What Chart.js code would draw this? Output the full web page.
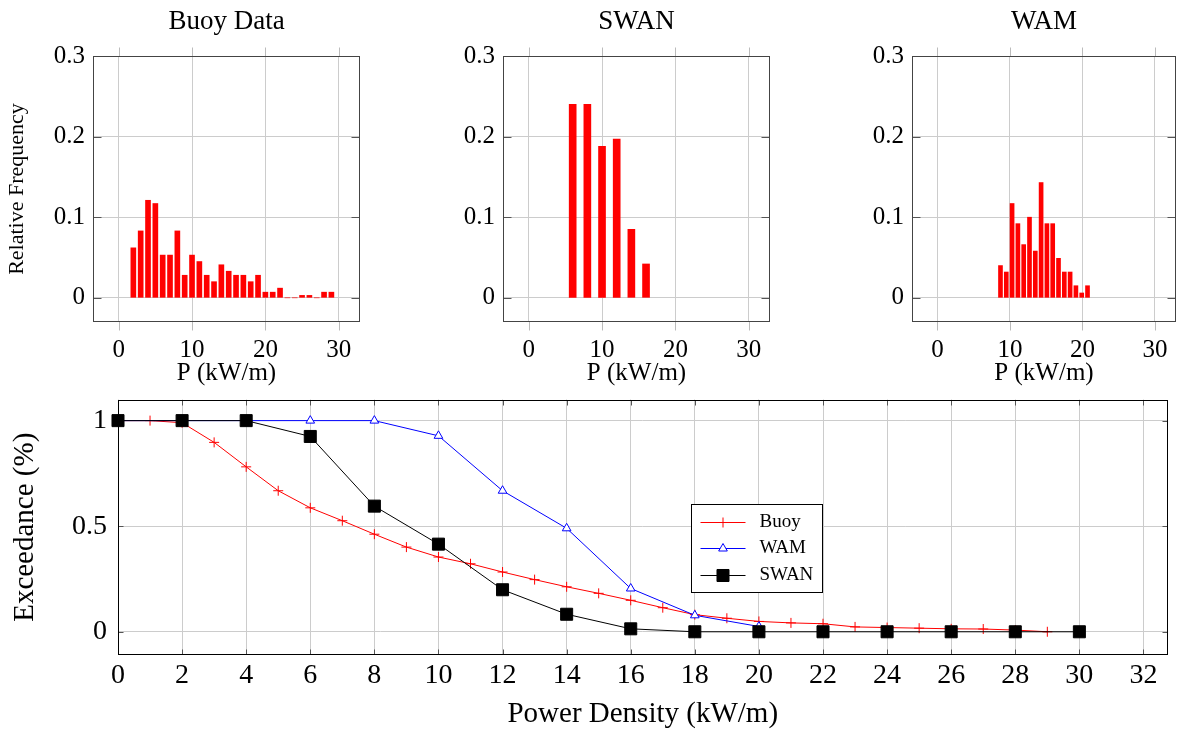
<!DOCTYPE html>
<html>
<head>
<meta charset="utf-8">
<title>Power density</title>
<script src="https://cdn.jsdelivr.net/npm/chart.js@4.4.1/dist/chart.umd.min.js"></script>
<style>
  body { margin: 0; background: #fff; }
  #wrap { position: relative; width: 1177px; height: 732px; overflow: hidden; }
  canvas { position: absolute; }
</style>
</head>
<body>
<div id="wrap">
  <canvas id="buoyHist" width="380" height="392" style="left:0;top:0"></canvas>
  <canvas id="swanHist" width="380" height="392" style="left:410px;top:0"></canvas>
  <canvas id="wamHist" width="358" height="392" style="left:819px;top:0"></canvas>
  <canvas id="exceedChart" width="1177" height="342" style="left:0;top:390px"></canvas>
</div>
<script>
// Histogram data (relative frequency per power bin)
const buoyBins = [2, 3, 4, 5, 6, 7, 8, 9, 10, 11, 12, 13, 14, 15, 16, 17, 18, 19, 20, 21, 22, 23, 24, 25, 26, 27, 28, 29];
const buoyFreq = [0.062, 0.083, 0.121, 0.117, 0.053, 0.053, 0.083, 0.028, 0.053, 0.045, 0.028, 0.020, 0.041, 0.033,
                  0.028, 0.028, 0.020, 0.028, 0.007, 0.007, 0.012, 0, 0, 0.003, 0.003, 0, 0.007, 0.007];
const swanBins = [6, 8, 10, 12, 14, 16];
const swanFreq = [0.240, 0.240, 0.188, 0.197, 0.085, 0.042];
const wamBins = [8.7, 9.5, 10.3, 11.1, 11.9, 12.7, 13.5, 14.3, 15.1, 15.9, 16.7, 17.5, 18.3, 19.1, 19.9, 20.7];
const wamFreq = [0.040, 0.032, 0.117, 0.092, 0.066, 0.100, 0.058, 0.143, 0.092, 0.092, 0.049, 0.032, 0.032, 0.015, 0.006, 0.015];

// Exceedance curves
const buoyX = [0, 1, 2, 3, 4, 5, 6, 7, 8, 9, 10, 11, 12, 13, 14, 15, 16, 17, 18, 19, 20, 21, 22, 23, 24, 25, 26, 27, 28, 29];
const buoyExc = [1, 1, 0.99, 0.897, 0.781, 0.668, 0.587, 0.526, 0.462, 0.401, 0.354, 0.322, 0.283, 0.247, 0.213,
                 0.182, 0.149, 0.114, 0.081, 0.064, 0.049, 0.042, 0.038, 0.023, 0.020, 0.017, 0.014, 0.013, 0.008, 0];
const wamX = [0, 2, 4, 6, 8, 10, 12, 14, 16, 18, 20];
const wamExc = [1, 1, 1, 1, 1, 0.928, 0.668, 0.490, 0.205, 0.078, 0.025];
const swanX = [0, 2, 4, 6, 8, 10, 12, 14, 16, 18, 20, 22, 24, 26, 28, 30];
const swanExc = [1, 1, 1, 0.925, 0.595, 0.415, 0.199, 0.083, 0.014, 0, 0, 0, 0, 0, 0, 0];

const serif = '"Liberation Serif", "Times New Roman", serif';
Chart.defaults.font.family = serif;
Chart.defaults.color = '#000';

// frame around the plot area + small tick marks like pgfplots
const framePlugin = {
    id: 'frame',
    beforeDatasetsDraw(chart, args, o) {
        const { ctx, chartArea: a, scales } = chart;
        const L = Math.round(a.left) + 0.5, R = Math.round(a.right) - 0.5;
        const T = Math.round(a.top) + 0.5, B = Math.round(a.bottom) - 0.5;
        ctx.save();
        ctx.lineWidth = 1;
        function seg(x1, y1, x2, y2, c) {
            ctx.strokeStyle = c;
            ctx.beginPath(); ctx.moveTo(x1, y1); ctx.lineTo(x2, y2); ctx.stroke();
        }
        scales.x.ticks.forEach(t => {
            const px = Math.round(scales.x.getPixelForValue(t.value)) + 0.5;
            if (o.xOut) { seg(px, T - o.xOut, px, T, o.outColor); seg(px, B, px, B + o.xOut, o.outColor); }
            if (o.xIn) { seg(px, T, px, T + o.xIn, o.inColor); seg(px, B, px, B - o.xIn, o.inColor); }
        });
        scales.y.ticks.forEach(t => {
            const py = Math.round(scales.y.getPixelForValue(t.value)) + 0.5;
            if (o.yIn) { seg(L, py, L + o.yIn, py, o.inColor); seg(R, py, R - o.yIn, py, o.inColor); }
        });
        ctx.strokeStyle = o.color;
        ctx.strokeRect(L, T, R - L, B - T);
        ctx.restore();
    }
};

// title above each small panel
const panelTitle = {
    id: 'panelTitle',
    afterDraw(chart, args, o) {
        if (!o.text) return;
        const { ctx, chartArea: a } = chart;
        ctx.save();
        ctx.font = o.size + 'px ' + serif;
        ctx.fillStyle = '#000';
        ctx.textAlign = 'center';
        ctx.textBaseline = 'middle';
        ctx.fillText(o.text, (a.left + a.right) / 2, o.y);
        ctx.restore();
    }
};

// boxed legend inside the plot area
const boxLegend = {
    id: 'boxLegend',
    afterDraw(chart, args, o) {
        if (!o.order) return;
        const { ctx, chartArea: a } = chart;
        const x0 = Math.round(a.left + o.left) + 0.5, y0 = Math.round(a.top + o.top) + 0.5;
        ctx.save();
        ctx.fillStyle = '#fff';
        ctx.fillRect(x0, y0, o.width, o.height);
        ctx.strokeStyle = '#000';
        ctx.lineWidth = 1;
        ctx.strokeRect(x0, y0, o.width, o.height);
        o.order.forEach((idx, row) => {
            const ds = chart.data.datasets[idx];
            const cy = Math.round(y0 + o.firstRow + row * o.rowGap) + 0.5;
            ctx.strokeStyle = ds.borderColor;
            ctx.lineWidth = 1;
            ctx.beginPath(); ctx.moveTo(x0 + 9, cy); ctx.lineTo(x0 + 54, cy); ctx.stroke();
            ctx.fillStyle = ds.pointBackgroundColor;
            ctx.strokeStyle = ds.borderColor;
            Chart.helpers.drawPoint(ctx, { pointStyle: ds.pointStyle, radius: ds.pointRadius, rotation: 0, borderWidth: 1 }, x0 + 31.5, cy);
            ctx.fillStyle = '#000';
            ctx.font = o.size + 'px ' + serif;
            ctx.textAlign = 'left';
            ctx.textBaseline = 'middle';
            ctx.fillText(ds.label, x0 + 68, cy);
        });
        ctx.restore();
    }
};

Chart.register(framePlugin, panelTitle, boxLegend);

// keep the plot area where we put it: no extra room for edge labels
function noPad(s) {
    s.paddingTop = 0; s.paddingBottom = 0; s.paddingLeft = 0; s.paddingRight = 0;
}
const plainNum = v => String(Math.round(v * 1000) / 1000);

function makeHist(id, title, bins, freq, thickness, showYTitle, padRight) {
    new Chart(document.getElementById(id), {
        type: 'bar',
        data: {
            datasets: [{
                data: bins.map((b, i) => ({ x: b, y: freq[i] })),
                backgroundColor: '#ff0000',
                borderWidth: 0,
                barThickness: thickness
            }]
        },
        options: {
            responsive: false,
            animation: false,
            layout: { padding: { top: 56, right: padRight, left: 0, bottom: 0 } },
            plugins: {
                legend: { display: false },
                tooltip: { enabled: false },
                panelTitle: { text: title, y: 22, size: 27 },
                frame: { color: '#444', outColor: '#bbb', inColor: '#555', xOut: 9, yIn: 8 }
            },
            scales: {
                x: {
                    type: 'linear', min: -3.5, max: 32.9, offset: false,
                    grid: { color: '#cccccc', drawTicks: false, offset: false },
                    border: { display: false },
                    ticks: { stepSize: 10, includeBounds: false, padding: 13, font: { size: 25 }, callback: plainNum },
                    title: { display: true, text: 'P (kW/m)', font: { size: 25 }, padding: { top: 0, bottom: 4 } },
                    afterFit: s => { s.height = 70; noPad(s); }
                },
                y: {
                    min: -0.03, max: 0.3,
                    grid: { color: '#cccccc', drawTicks: false },
                    border: { display: false },
                    ticks: { stepSize: 0.1, includeBounds: false, padding: 8, font: { size: 25 }, callback: plainNum },
                    title: { display: showYTitle, text: 'Relative Frequency', font: { size: 22 }, padding: { top: 4 } },
                    afterFit: s => { s.width = 93; noPad(s); }
                }
            }
        }
    });
}

makeHist('buoyHist', 'Buoy Data', buoyBins, buoyFreq, 5, true, 20);
makeHist('swanHist', 'SWAN', swanBins, swanFreq, 7, false, 20);
makeHist('wamHist', 'WAM', wamBins, wamFreq, 4, false, 1);

// Exceedance chart
const toPts = (xs, ys) => xs.map((x, i) => ({ x: x, y: ys[i] }));
new Chart(document.getElementById('exceedChart'), {
    type: 'line',
    data: {
        datasets: [
            {
                label: 'Buoy', data: toPts(buoyX, buoyExc),
                borderColor: '#ff0000', backgroundColor: '#ff0000', pointBackgroundColor: '#ff0000',
                borderWidth: 1, pointStyle: 'cross', pointRadius: 5, pointBorderWidth: 1,
                order: 2, clip: false
            },
            {
                label: 'WAM', data: toPts(wamX, wamExc),
                borderColor: '#0000ff', backgroundColor: '#ffffff', pointBackgroundColor: '#ffffff',
                borderWidth: 1, pointStyle: 'triangle', pointRadius: 5, pointBorderWidth: 1,
                order: 1, clip: false
            },
            {
                label: 'SWAN', data: toPts(swanX, swanExc),
                borderColor: '#000000', backgroundColor: '#000000', pointBackgroundColor: '#000000',
                borderWidth: 1, pointStyle: 'rect', pointRadius: 8.5, pointBorderWidth: 1,
                order: 0, clip: false
            }
        ]
    },
    options: {
        responsive: false,
        animation: false,
        layout: { padding: { top: 6, right: 1, left: 0, bottom: 0 } },
        plugins: {
            legend: { display: false },
            tooltip: { enabled: false },
            frame: { color: '#000', outColor: '#bbb', inColor: '#555', xIn: 5, yIn: 5 },
            boxLegend: { order: [0, 1, 2], left: 573, top: 104, width: 131, height: 88, firstRow: 17, rowGap: 26.5, size: 19 }
        },
        scales: {
            x: {
                type: 'linear', min: 0, max: 32.75,
                grid: { color: '#cccccc', drawTicks: false },
                border: { display: false },
                ticks: { stepSize: 2, includeBounds: false, padding: 4, font: { size: 28 }, callback: plainNum },
                title: { display: true, text: 'Power Density (kW/m)', font: { size: 29 }, padding: { top: 0, bottom: 0 } },
                afterFit: s => { s.height = 77; noPad(s); }
            },
            y: {
                min: -0.11, max: 1.1,
                grid: { color: '#cccccc', drawTicks: false },
                border: { display: false },
                ticks: { stepSize: 0.5, includeBounds: false, padding: 11, font: { size: 28 }, callback: plainNum },
                title: { display: true, text: 'Exceedance (%)', font: { size: 29 }, padding: { top: 8 } },
                afterFit: s => { s.width = 118; noPad(s); }
            }
        }
    }
});
</script>
</body>
</html>
